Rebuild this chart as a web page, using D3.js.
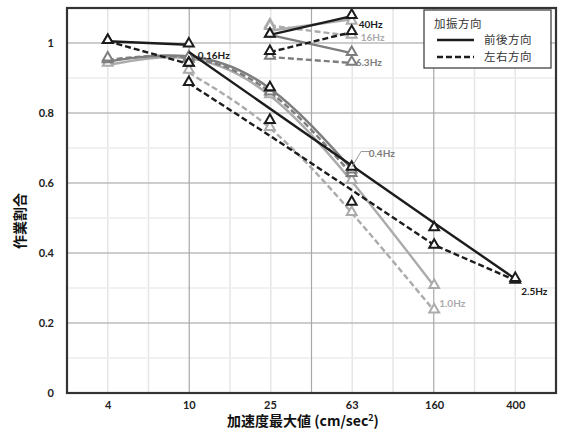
<!DOCTYPE html>
<html>
<head>
<meta charset="utf-8">
<script src="https://cdn.jsdelivr.net/npm/d3@7"></script>
<style>
	body { margin: 0; background: #fff; }
	svg { display: block; }
	.tick text { font-family: Lato, "Noto Sans", sans-serif; font-weight: bold; font-size: 11px; fill: #222; }
</style>
</head>
<body>
<div id="chart"></div>
<script>
"use strict";

// x categories (acceleration peak, log spaced) and y ticks
var xTicks = [4, 10, 25, 63, 160, 400];
var yTicks = [0, 0.2, 0.4, 0.6, 0.8, 1];

// trend lines: [accel, ratio]
var line016s = [[4, 1.005], [10, 0.995]];
var line016d = [[4, 1.005], [10, 0.94]];
var line04s = [[4, 0.947], [10, 0.962], [25, 0.87], [63, 0.64]];
var line04d = [[4, 0.952], [10, 0.958], [25, 0.86], [63, 0.625]];
var line10s = [[4, 0.937], [10, 0.956], [25, 0.85], [63, 0.605], [160, 0.305]];
var line10d = [[10, 0.915], [25, 0.757], [63, 0.515], [160, 0.235]];
var line25s = [[10, 0.974], [160, 0.486], [400, 0.326]];
var line25d = [[10, 0.885], [25, 0.735], [63, 0.58], [160, 0.423], [400, 0.322]];
var line63s = [[25, 1.023], [63, 0.971]];
var line63d = [[25, 0.96], [63, 0.943]];
var line16s = [[25, 1.035], [63, 1.068]];
var line16d = [[25, 1.05], [63, 1.02]];
var line40s = [[25, 1.023], [63, 1.077]];
var line40d = [[25, 0.974], [63, 1.031]];

// measured points (triangles)
var pts016s = [[4, 1.005], [10, 0.995]];
var pts016d = [[4, 1.005], [10, 0.94]];
var pts04s = [[4, 0.955], [10, 0.958], [25, 0.868], [63, 0.635]];
var pts04d = [[4, 0.95], [10, 0.952], [25, 0.858], [63, 0.625]];
var pts10s = [[4, 0.94], [25, 0.85], [63, 0.605], [160, 0.305]];
var pts10d = [[10, 0.92], [25, 0.757], [63, 0.514], [160, 0.235]];
var pts25s = [[10, 0.94], [25, 0.87], [63, 0.643], [160, 0.47], [400, 0.325]];
var pts25d = [[10, 0.885], [25, 0.777], [63, 0.543], [160, 0.42], [400, 0.32]];
var pts63s = [[25, 1.023], [63, 0.971]];
var pts63d = [[25, 0.96], [63, 0.943]];
var pts16s = [[25, 1.045], [63, 1.06]];
var pts16d = [[25, 1.05], [63, 1.02]];
var pts40s = [[25, 1.023], [63, 1.077]];
var pts40d = [[25, 0.974], [63, 1.031]];

var BLACK = "#1c1c1c", MGRAY = "#7d7d7d", LGRAY = "#ababab";

// drawn light -> dark so the black series sit on top
var series = [
	{ line: line10d, pts: pts10d, color: LGRAY, dash: true, smooth: true },
	{ line: line10s, pts: pts10s, color: LGRAY, dash: false, smooth: true },
	{ line: line16d, pts: pts16d, color: LGRAY, dash: true },
	{ line: line16s, pts: pts16s, color: LGRAY, dash: false },
	{ line: line04d, pts: pts04d, color: MGRAY, dash: true, smooth: true },
	{ line: line04s, pts: pts04s, color: MGRAY, dash: false, smooth: true },
	{ line: line63d, pts: pts63d, color: MGRAY, dash: true },
	{ line: line63s, pts: pts63s, color: MGRAY, dash: false },
	{ line: line25d, pts: pts25d, color: BLACK, dash: true },
	{ line: line25s, pts: pts25s, color: BLACK, dash: false },
	{ line: line016d, pts: pts016d, color: BLACK, dash: true },
	{ line: line016s, pts: pts016s, color: BLACK, dash: false },
	{ line: line40d, pts: pts40d, color: BLACK, dash: true },
	{ line: line40s, pts: pts40s, color: BLACK, dash: false }
];

// frequency labels next to the series ends
var freqLabels = [
	{ text: "0.16Hz", at: [10, 0.995], dx: 9, dy: 11, color: BLACK },
	{ text: "0.4Hz", at: [63, 0.685], dx: 17, dy: 0, color: MGRAY },
	{ text: "1.0Hz", at: [160, 0.235], dx: 5, dy: -7, color: LGRAY },
	{ text: "2.5Hz", at: [400, 0.32], dx: 6, dy: 10, color: BLACK },
	{ text: "6.3Hz", at: [63, 0.943], dx: 4, dy: 0, color: MGRAY },
	{ text: "16Hz", at: [63, 1.02], dx: 9, dy: 1, color: LGRAY },
	{ text: "40Hz", at: [63, 1.077], dx: 7, dy: 8, color: BLACK }
];

var svg = d3.select("#chart").append("svg").attr("width", 563).attr("height", 435);

var margin = {left: 67, right: 556, top: 8, bottom: 393};

var x = d3.scaleLog()
	.domain([4 / Math.pow(10, 0.2), 400 * Math.pow(10, 0.2)])
	.range([margin.left, margin.right]);
var y = d3.scaleLinear().domain([0, 1.1]).range([margin.bottom, margin.top]);

var g = svg.append("g");

// grid: minor every half category, major every 3rd (base-4 style)
var lx0 = Math.log10(x.domain()[0]);
for (var k = 1; k < 12; k++) {
	if (k % 3 == 0) continue;
	var v = Math.pow(10, lx0 + 0.2 * k);
	g.append("line").attr("x1", x(v)).attr("x2", x(v)).attr("y1", y(0)).attr("y2", y(1.1))
		.attr("stroke", "#e6e6e6").attr("stroke-width", 1.5);
}
for (var j = 1; j < 11; j++) {
	if (j % 2 == 0) continue;
	g.append("line").attr("x1", x.range()[0]).attr("x2", x.range()[1]).attr("y1", y(j / 10)).attr("y2", y(j / 10))
		.attr("stroke", "#ececec").attr("stroke-width", 1.5);
}
yTicks.forEach(function(t) {
	if (t == 0) return;
	g.append("line").attr("x1", x.range()[0]).attr("x2", x.range()[1]).attr("y1", y(t)).attr("y2", y(t))
		.attr("stroke", "#bdbdbd").attr("stroke-width", 1.3);
});
[3, 6, 9].forEach(function(k) {
	var v = Math.pow(10, lx0 + 0.2 * k);
	g.append("line").attr("x1", x(v)).attr("x2", x(v)).attr("y1", y(0)).attr("y2", y(1.1))
		.attr("stroke", "#a8a8a8").attr("stroke-width", 1.2);
});

// axes (labels only, frame drawn below)
svg.append("g")
	.attr("transform", "translate(" + margin.left + ",0)")
	.call(d3.axisLeft(y).tickValues(yTicks).tickSize(0).tickPadding(13).tickFormat(function(d) { return d3.format("")(d); }))
	.call(function(a) { a.select(".domain").remove(); });

svg.append("g")
	.attr("transform", "translate(0," + margin.bottom + ")")
	.call(d3.axisBottom(x).tickValues(xTicks).tickSize(0).tickPadding(8).tickFormat(function(d) { return String(d); }))
	.call(function(a) { a.select(".domain").remove(); });

var lineGen = d3.line().x(function(d) { return x(d[0]); }).y(function(d) { return y(d[1]); });
var tri = d3.symbol().type(d3.symbolTriangle).size(42);

series.forEach(function(s) {
	lineGen.curve(s.smooth ? d3.curveNatural : d3.curveLinear);
	g.append("path")
		.attr("d", lineGen(s.line))
		.attr("fill", "none")
		.attr("stroke", s.color)
		.attr("stroke-width", 2.4)
		.attr("stroke-dasharray", s.dash ? "6,3" : null);
	g.selectAll(null).data(s.pts).enter().append("path")
		.attr("d", tri)
		.attr("transform", function(d) { return "translate(" + x(d[0]) + "," + (y(d[1]) - 1) + ")"; })
		.attr("fill", "#fff")
		.attr("stroke", s.color)
		.attr("stroke-width", 2);
});

// leader line for 0.4Hz
g.append("path")
	.attr("d", lineGen.curve(d3.curveLinear)([[63, 0.645], [70, 0.69], [78, 0.69]]))
	.attr("fill", "none").attr("stroke", "#999").attr("stroke-width", 1);

g.selectAll(".flab").data(freqLabels).enter().append("text")
	.attr("class", "flab")
	.attr("x", function(d) { return x(d.at[0]) + d.dx; })
	.attr("y", function(d) { return y(d.at[1]) + d.dy; })
	.attr("dy", "0.35em")
	.attr("fill", function(d) { return d.color; })
	.style("font", "bold 10px Lato, 'Noto Sans', sans-serif")
	.text(function(d) { return d.text; });

// frame
svg.append("rect")
	.attr("x", margin.left).attr("y", margin.top)
	.attr("width", margin.right - margin.left).attr("height", margin.bottom - margin.top)
	.attr("fill", "none").attr("stroke", "#333").attr("stroke-width", 2.2);

// axis titles
svg.append("text")
	.attr("x", 303).attr("y", 426)
	.attr("text-anchor", "middle")
	.style("font", "bold 14px 'Noto Sans CJK JP', sans-serif")
	.attr("fill", "#111")
	.html("加速度最大値 (cm/sec<tspan dy='-5' font-size='9px'>2</tspan><tspan dy='5'>)</tspan>");

svg.append("text")
	.attr("transform", "translate(25,221) rotate(-90)")
	.attr("text-anchor", "middle")
	.style("font", "bold 14px 'Noto Sans CJK JP', sans-serif")
	.attr("fill", "#111")
	.text("作業割合");

// legend
var lg = svg.append("g").attr("transform", "translate(424,10)");
lg.append("rect").attr("width", 127).attr("height", 58)
	.attr("fill", "#fff").attr("stroke", "#444").attr("stroke-width", 1.3);
lg.append("text").attr("x", 10).attr("y", 14).attr("dy", "0.35em")
	.style("font", "11.5px 'Noto Sans CJK JP', sans-serif").attr("fill", "#333")
	.attr("letter-spacing", "0.5px")
	.text("加振方向");
var legendRows = [{label: "前後方向", dash: null}, {label: "左右方向", dash: "6,3"}];
legendRows.forEach(function(r, i) {
	var yy = 30 + i * 17;
	lg.append("line").attr("x1", 13).attr("x2", 50).attr("y1", yy).attr("y2", yy)
		.attr("stroke", BLACK).attr("stroke-width", 2.4).attr("stroke-dasharray", r.dash);
	lg.append("text").attr("x", 60).attr("y", yy).attr("dy", "0.35em")
		.style("font", "11.5px 'Noto Sans CJK JP', sans-serif").attr("fill", "#333")
		.attr("letter-spacing", "0.5px")
		.text(r.label);
});
</script>
</body>
</html>
